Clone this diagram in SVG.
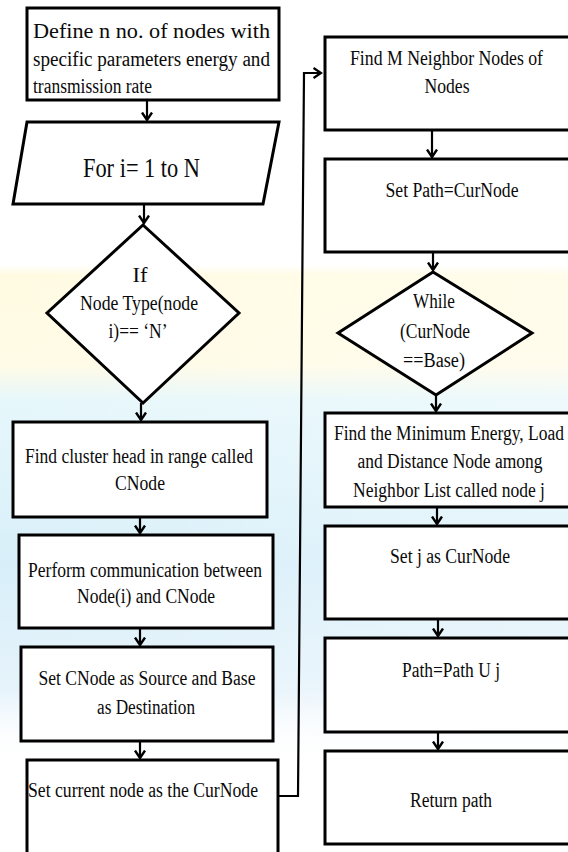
<svg xmlns="http://www.w3.org/2000/svg" width="568" height="852" viewBox="0 0 568 852">
<defs>
<linearGradient id="bg" x1="0" y1="0" x2="0" y2="1">
<stop offset="0" stop-color="#fffbe2" stop-opacity="0"/>
<stop offset="0.02" stop-color="#fffbe2"/>
<stop offset="0.2" stop-color="#fffbe6"/>
<stop offset="0.27" stop-color="#e6f7fb"/>
<stop offset="0.6" stop-color="#d8eff9"/>
<stop offset="0.85" stop-color="#e6f3fb"/>
<stop offset="1" stop-color="#ffffff" stop-opacity="0"/>
</linearGradient>
<linearGradient id="fadeR" x1="0" y1="0" x2="1" y2="0">
<stop offset="0" stop-color="#ffffff" stop-opacity="0"/>
<stop offset="0.5" stop-color="#ffffff" stop-opacity="0.15"/>
<stop offset="1" stop-color="#ffffff" stop-opacity="0.3"/>
</linearGradient>
<marker id="arr" viewBox="0 0 10 12" refX="8.5" refY="6" markerWidth="10" markerHeight="12" markerUnits="userSpaceOnUse" orient="auto">
<path d="M1,1 L8.5,6 L1,11" fill="none" stroke="#000" stroke-width="2.4"/>
</marker>
<style>
.box{fill:#fff;stroke:#000;stroke-width:3}
.t{font-family:"Liberation Serif","Times New Roman",serif;font-size:20px;fill:#0a0a0a}
.c{text-anchor:middle}
.con{fill:none;stroke:#000;stroke-width:2.2;marker-end:url(#arr)}
</style>
</defs>
<rect width="568" height="852" fill="#fff"/>
<rect x="0" y="265" width="568" height="500" fill="url(#bg)"/>
<rect x="0" y="265" width="568" height="500" fill="url(#fadeR)"/>

<g id="connectors">
<path class="con" d="M147,100 L147,120"/>
<path class="con" d="M144,204 L144,223"/>
<path class="con" d="M141,403 L141,420"/>
<path class="con" d="M140,517 L140,533"/>
<path class="con" d="M140,628 L140,645"/>
<path class="con" d="M140,741 L140,758"/>
<path class="con" d="M278,796 L298,796 L304,73 L321,73"/>
<path class="con" d="M432,130 L432,157"/>
<path class="con" d="M433,252 L433,270"/>
<path class="con" d="M436,395 L436,411"/>
<path class="con" d="M437,507 L437,524"/>
<path class="con" d="M438,619 L438,636"/>
<path class="con" d="M438,732 L438,749"/>
</g>

<g id="n1">
<rect class="box" x="27" y="8" width="252" height="92"/>
<text class="t" x="33" y="38" textLength="237" lengthAdjust="spacingAndGlyphs">Define n no. of nodes with</text>
<text class="t" x="33" y="66" textLength="237" lengthAdjust="spacingAndGlyphs">specific parameters energy and</text>
<text class="t" x="33" y="93" textLength="119" lengthAdjust="spacingAndGlyphs">transmission rate</text>
</g>

<g id="n2">
<polygon class="box" points="27,122 279,122 263,204 13,204"/>
<text class="t" x="83" y="177" style="font-size:28px" textLength="117" lengthAdjust="spacingAndGlyphs">For i= 1 to N</text>
</g>

<g id="n3">
<polygon class="box" points="143,225 239,313 143,403 47,313"/>
<text class="t c" x="140" y="282" textLength="15" lengthAdjust="spacingAndGlyphs">If</text>
<text class="t c" x="139" y="310" textLength="118" lengthAdjust="spacingAndGlyphs">Node Type(node</text>
<text class="t c" x="138" y="338" textLength="59" lengthAdjust="spacingAndGlyphs">i)== ‘N’</text>
</g>

<g id="n4">
<rect class="box" x="13" y="422" width="254" height="95"/>
<text class="t c" x="139" y="463" textLength="228" lengthAdjust="spacingAndGlyphs">Find cluster head in range called</text>
<text class="t c" x="140" y="490" textLength="50" lengthAdjust="spacingAndGlyphs">CNode</text>
</g>

<g id="n5">
<rect class="box" x="19" y="535" width="254" height="93"/>
<text class="t c" x="145" y="577" textLength="234" lengthAdjust="spacingAndGlyphs">Perform communication between</text>
<text class="t c" x="146" y="603" textLength="138" lengthAdjust="spacingAndGlyphs">Node(i) and CNode</text>
</g>

<g id="n6">
<rect class="box" x="21" y="647" width="252" height="94"/>
<text class="t c" x="147" y="685" textLength="217" lengthAdjust="spacingAndGlyphs">Set CNode as Source and Base</text>
<text class="t c" x="146" y="714" textLength="98" lengthAdjust="spacingAndGlyphs">as Destination</text>
</g>

<g id="n7">
<rect class="box" x="27" y="760" width="251" height="100"/>
<text class="t" x="28" y="797" textLength="230" lengthAdjust="spacingAndGlyphs">Set current node as the CurNode</text>
</g>

<g id="r1">
<rect class="box" x="325" y="37" width="255" height="93"/>
<text class="t" x="350" y="65" textLength="193" lengthAdjust="spacingAndGlyphs">Find M Neighbor Nodes of</text>
<text class="t c" x="447" y="93" textLength="45" lengthAdjust="spacingAndGlyphs">Nodes</text>
</g>

<g id="r2">
<rect class="box" x="325" y="159" width="255" height="93"/>
<text class="t c" x="452" y="197" textLength="133" lengthAdjust="spacingAndGlyphs">Set Path=CurNode</text>
</g>

<g id="r3">
<polygon class="box" points="433,272 532,333 436,395 338,333"/>
<text class="t c" x="434" y="308" textLength="42" lengthAdjust="spacingAndGlyphs">While</text>
<text class="t c" x="435" y="338" textLength="70" lengthAdjust="spacingAndGlyphs">(CurNode</text>
<text class="t c" x="434" y="367" textLength="62" lengthAdjust="spacingAndGlyphs">==Base)</text>
</g>

<g id="r4">
<rect class="box" x="325" y="413" width="255" height="94"/>
<text class="t" x="334" y="440" textLength="230" lengthAdjust="spacingAndGlyphs">Find the Minimum Energy, Load</text>
<text class="t c" x="450" y="468" textLength="185" lengthAdjust="spacingAndGlyphs">and Distance Node among</text>
<text class="t c" x="449" y="497" textLength="192" lengthAdjust="spacingAndGlyphs">Neighbor List called node j</text>
</g>

<g id="r5">
<rect class="box" x="325" y="526" width="255" height="93"/>
<text class="t c" x="450" y="563" textLength="120" lengthAdjust="spacingAndGlyphs">Set j as CurNode</text>
</g>

<g id="r6">
<rect class="box" x="325" y="638" width="255" height="94"/>
<text class="t c" x="451" y="677" textLength="98" lengthAdjust="spacingAndGlyphs">Path=Path U j</text>
</g>

<g id="r7">
<rect class="box" x="325" y="751" width="255" height="93"/>
<text class="t c" x="451" y="807" textLength="82" lengthAdjust="spacingAndGlyphs">Return path</text>
</g>
</svg>
